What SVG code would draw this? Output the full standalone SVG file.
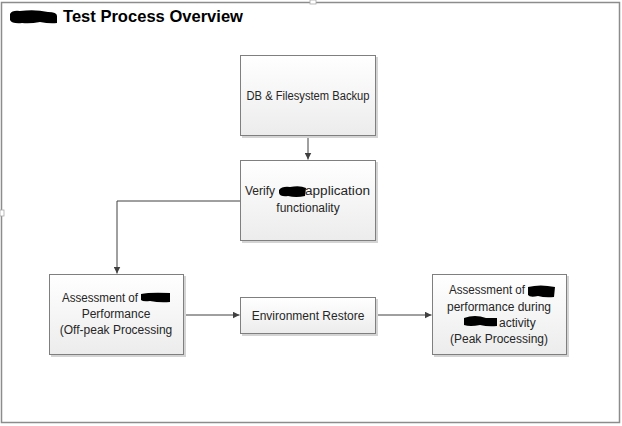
<svg xmlns="http://www.w3.org/2000/svg" width="622" height="426" viewBox="0 0 622 426">
<defs>
<linearGradient id="g" x1="0" y1="0" x2="0" y2="1">
<stop offset="0" stop-color="#ffffff"/>
<stop offset="1" stop-color="#ececec"/>
</linearGradient>
<marker id="a" viewBox="0 0 10 10" refX="10" refY="5" markerWidth="7" markerHeight="7" orient="auto" markerUnits="userSpaceOnUse">
<path d="M0,0 L10,5 L0,10 z" fill="#404040"/>
</marker>
<style>
.box{fill:url(#g);stroke:#7f7f7f;stroke-width:1}
.sh{fill:#d4d4d4}
.t{font-family:"Liberation Sans",Arial,sans-serif;font-size:12px;fill:#262626;text-anchor:middle}
.s{text-anchor:start}
.c{fill:none;stroke:#404040;stroke-width:1;marker-end:url(#a)}
.blob{fill:#000}
</style>
</defs>
<rect x="0" y="0" width="622" height="426" fill="#fff"/>
<rect x="1.5" y="2.5" width="618" height="420" fill="none" stroke="#8c8c8c" stroke-width="1.5"/>
<rect x="310" y="0" width="6" height="4" fill="#fff" stroke="#aaa" stroke-width="0.8"/>
<rect x="0" y="210" width="4" height="6" fill="#fff" stroke="#aaa" stroke-width="0.8"/>
<g id="title">
<path class="blob" d="M10,14 Q12,10 20,11 Q35,9 48,12 Q57,12 57,16 L57,23 Q50,24 40,22 Q30,24 22,23 Q12,24 10,20 Z"/>
<text x="63" y="22" font-family="'Liberation Sans',Arial,sans-serif" font-size="16.5" font-weight="bold" fill="#000" textLength="180" lengthAdjust="spacingAndGlyphs">Test Process Overview</text>
</g>
<g id="connectors">
<path class="c" d="M308,136 V159.5"/>
<path class="c" d="M240,201 H117 V273.5"/>
<path class="c" d="M184,315 H239.5"/>
<path class="c" d="M376,315 H431.5"/>
</g>
<g id="n1">
<rect class="sh" x="242" y="57" width="136" height="81"/>
<rect class="box" x="240.5" y="55.5" width="135" height="80"/>
<text class="t" x="308" y="100" textLength="123" lengthAdjust="spacingAndGlyphs">DB &amp; Filesystem Backup</text>
</g>
<g id="n2">
<rect class="sh" x="242" y="162" width="136" height="81"/>
<rect class="box" x="240.5" y="160.5" width="135" height="80"/>
<text class="t s" x="245" y="195" textLength="30" lengthAdjust="spacingAndGlyphs">Verify</text>
<text class="t s" x="305" y="195" textLength="65" lengthAdjust="spacingAndGlyphs">application</text>
<path class="blob" d="M279,190 Q282,186 290,187 Q300,185 306,188 L305,196 Q296,198 288,196 Q280,197 279,193 Z"/>
<text class="t" x="308" y="212">functionality</text>
</g>
<g id="n3">
<rect class="sh" x="51" y="276" width="135" height="81"/>
<rect class="box" x="49.5" y="274.5" width="134" height="80"/>
<text class="t s" x="62" y="302" textLength="76" lengthAdjust="spacingAndGlyphs">Assessment of</text>
<path class="blob" d="M141,294 Q150,292 170,293 L170,302 Q160,303 150,301 Q143,302 141,300 Z"/>
<text class="t" x="116" y="318">Performance</text>
<text class="t" x="116" y="334">(Off-peak Processing</text>
</g>
<g id="n4">
<rect class="sh" x="242" y="299" width="136" height="37"/>
<rect class="box" x="240.5" y="297.5" width="135" height="36"/>
<text class="t" x="308" y="320">Environment Restore</text>
</g>
<g id="n5">
<rect class="sh" x="434" y="276" width="135" height="81"/>
<rect class="box" x="432.5" y="274.5" width="134" height="80"/>
<text class="t s" x="449" y="294" textLength="76" lengthAdjust="spacingAndGlyphs">Assessment of</text>
<path class="blob" d="M528,287 Q540,284 555,287 L554,297 Q545,298 538,296 Q530,298 528,295 Z"/>
<text class="t" x="499" y="311">performance during</text>
<path class="blob" d="M464,318 Q475,314 486,318 L497,318 L497,326 Q488,327 480,325 Q470,327 464,325 Z"/>
<text class="t s" x="499" y="327">activity</text>
<text class="t" x="499" y="343">(Peak Processing)</text>
</g>
</svg>
